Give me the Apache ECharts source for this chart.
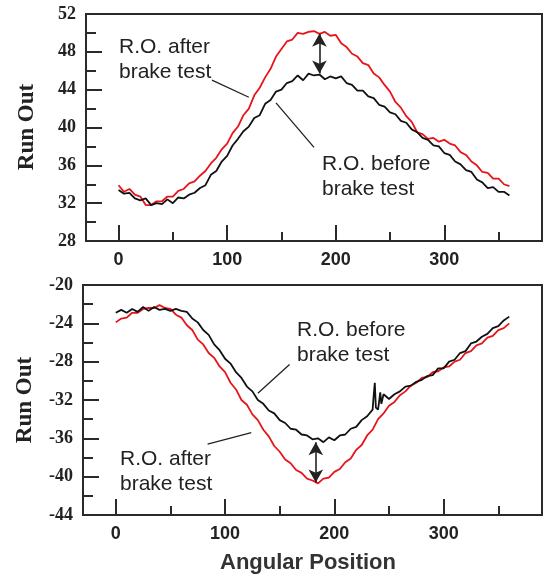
<!DOCTYPE html>
<html>
<head>
<meta charset="utf-8">
<script src="https://cdn.jsdelivr.net/npm/echarts@6/dist/echarts.min.js"></script>
<style>
  html, body { margin: 0; padding: 0; background: #fff; }
  #chart { width: 544px; height: 578px; }
</style>
</head>
<body>
<div id="chart"></div>
<script>
// Run out vs angular position, before / after brake test

var angles = [0, 5, 10, 15, 20, 25, 30, 35, 40, 45, 50, 55, 60, 65, 70, 75, 80, 85, 90, 95,
    100, 105, 110, 115, 120, 125, 130, 135, 140, 145, 150, 155, 160, 165, 170, 175, 180, 185, 190, 195,
    200, 205, 210, 215, 220, 225, 230, 235, 240, 245, 250, 255, 260, 265, 270, 275, 280, 285, 290, 295,
    300, 305, 310, 315, 320, 325, 330, 335, 340, 345, 350, 355, 360];

// top panel
var topBefore = [33.4, 33.0, 33.1, 32.5, 32.3, 32.5, 31.8, 32.0, 31.9, 32.4, 32.0, 32.6, 32.5, 32.9, 33.1, 33.6, 33.9, 35.0, 35.4, 36.4,
    37.0, 38.1, 38.8, 39.6, 40.1, 41.0, 41.3, 42.5, 42.9, 43.8, 44.0, 44.7, 44.9, 45.5, 45.0, 45.7, 45.5, 45.6, 45.1, 45.4,
    45.2, 45.4, 44.7, 44.5, 43.9, 43.9, 43.3, 43.1, 42.4, 42.2, 41.6, 41.4, 40.7, 40.5, 39.8, 39.5, 38.9, 38.7, 38.1, 38.0,
    37.3, 37.1, 36.4, 36.1, 35.5, 35.3, 34.5, 34.2, 33.6, 33.7, 33.2, 33.2, 32.8];
var topAfter = [33.9, 33.2, 33.5, 32.9, 32.7, 31.8, 31.8, 32.2, 32.2, 32.7, 32.7, 33.3, 33.5, 34.1, 34.3, 34.9, 35.4, 36.2, 36.8, 37.7,
    38.3, 39.4, 40.1, 41.3, 42.0, 43.4, 44.2, 45.3, 46.2, 47.5, 48.3, 49.1, 49.3, 50.0, 49.9, 50.1, 50.2, 49.9, 50.1, 49.7,
    49.8, 48.9, 48.5, 47.8, 47.5, 46.8, 46.6, 45.7, 45.3, 44.5, 43.8, 42.7, 42.1, 41.2, 40.6, 39.5, 39.3, 38.8, 38.9, 38.5,
    38.7, 38.3, 38.1, 37.4, 37.1, 36.4, 36.0, 35.3, 35.2, 34.6, 34.6, 34.0, 33.8];

// bottom panel (before test has a spike near 237 deg, so its own angle list)
var bottomBeforeAngles = [0, 5, 10, 15, 20, 25, 30, 35, 40, 45, 50, 55, 60, 65, 70, 75, 80, 85, 90, 95,
    100, 105, 110, 115, 120, 125, 130, 135, 140, 145, 150, 155, 160, 165, 170, 175, 180, 185, 190, 195,
    200, 205, 210, 215, 220, 225, 230, 235, 236, 237, 238, 240, 242, 243, 245, 250, 255, 260, 265, 270, 275, 280, 285, 290, 295,
    300, 305, 310, 315, 320, 325, 330, 335, 340, 345, 350, 355, 360];
var bottomBefore = [-22.9, -22.6, -22.9, -22.5, -22.8, -22.3, -22.7, -22.3, -22.6, -22.5, -22.7, -22.5, -22.7, -22.8, -23.5, -23.9, -24.7, -25.2, -26.2, -26.8,
    -27.7, -28.2, -29.1, -29.7, -30.6, -31.1, -32.0, -32.4, -33.1, -33.4, -34.1, -34.4, -35.0, -35.1, -35.6, -35.7, -36.1, -36.0, -36.4, -35.9,
    -36.2, -35.7, -35.6, -35.0, -34.8, -34.1, -33.7, -33.0, -31.5, -30.2, -32.8, -33.0, -31.2, -32.4, -31.4, -31.9, -31.4, -31.1, -30.6, -30.5, -30.1, -29.9, -29.5, -29.4, -28.7,
    -28.7, -28.0, -27.8, -27.1, -26.9, -26.1, -25.9, -25.4, -25.1, -24.5, -24.3, -23.7, -23.3];
var bottomAfter = [-23.9, -23.5, -23.4, -22.9, -22.9, -22.5, -22.4, -22.4, -22.1, -22.4, -22.5, -23.1, -23.4, -24.2, -24.7, -25.7, -26.2, -27.1, -27.6, -28.5,
    -29.1, -30.2, -30.9, -32.0, -32.5, -33.5, -34.1, -35.1, -35.8, -36.8, -37.4, -38.2, -38.6, -39.3, -39.6, -40.2, -40.4, -40.7, -40.2, -40.1,
    -39.5, -39.2, -38.5, -38.1, -37.2, -36.7, -35.7, -35.1, -34.0, -33.4, -32.6, -32.2, -31.5, -31.1, -30.5, -30.2, -29.7, -29.6, -29.1, -29.0,
    -28.6, -28.5, -28.0, -27.8, -27.1, -26.9, -26.3, -26.1, -25.5, -25.3, -24.7, -24.5, -24.0];

var xMajorTicks = [0, 100, 200, 300];
var xMinorTicks = [50, 150, 250, 350];
var topMinorTicks = [30, 34, 38, 42, 46, 50];
var bottomMinorTicks = [-42, -38, -34, -30, -26, -22];

function pairs(xs, ys) {
    var out = [];
    for (var i = 0; i < xs.length; i++) {
        out.push([xs[i], ys[i]]);
    }
    return out;
}

var axisColor = '#2a2a2a';
var redColor = '#e8141b';
var blackColor = '#111111';

function majorXAxis(gridIndex) {
    return {
        type: 'value',
        gridIndex: gridIndex,
        position: 'bottom',
        min: -30,
        max: 390,
        axisLine: { show: true, onZero: false, lineStyle: { color: axisColor, width: 2 } },
        axisTick: { show: true, inside: true, length: 16, customValues: xMajorTicks, lineStyle: { color: axisColor, width: 2 } },
        axisLabel: {
            customValues: xMajorTicks,
            margin: 10,
            fontFamily: 'Liberation Sans',
            fontWeight: 'bold',
            fontSize: 18,
            color: '#222'
        },
        splitLine: { show: false }
    };
}

function minorXAxis(gridIndex) {
    return {
        type: 'value',
        gridIndex: gridIndex,
        position: 'bottom',
        min: -30,
        max: 390,
        axisLine: { show: false, onZero: false },
        axisTick: { show: true, inside: true, length: 9, customValues: xMinorTicks, lineStyle: { color: axisColor, width: 2 } },
        axisLabel: { show: false },
        splitLine: { show: false }
    };
}

function runOutAxis(gridIndex, min, max) {
    return {
        type: 'value',
        gridIndex: gridIndex,
        position: 'left',
        min: min,
        max: max,
        interval: 4,
        axisLine: { show: true, onZero: false, lineStyle: { color: axisColor, width: 2 } },
        axisTick: { show: true, inside: true, length: 16, lineStyle: { color: axisColor, width: 2 } },
        axisLabel: {
            margin: 10,
            fontFamily: 'Liberation Serif',
            fontWeight: 'bold',
            fontSize: 18,
            color: '#222'
        },
        splitLine: { show: false }
    };
}

function minorYAxis(gridIndex, min, max, ticks) {
    return {
        type: 'value',
        gridIndex: gridIndex,
        position: 'left',
        min: min,
        max: max,
        axisLine: { show: false, onZero: false },
        axisTick: { show: true, inside: true, length: 10, customValues: ticks, lineStyle: { color: axisColor, width: 2 } },
        axisLabel: { show: false },
        splitLine: { show: false }
    };
}

function leader(a, b) {
    return [{ coord: a, symbol: 'none' }, { coord: b, symbol: 'none' }];
}

function doubleArrow(a, b) {
    return [
        { coord: a, symbol: 'arrow', symbolSize: [11, 13], lineStyle: { width: 1.6 } },
        { coord: b, symbol: 'arrow', symbolSize: [11, 13] }
    ];
}

var annText = {
    fontFamily: 'Liberation Sans',
    fontSize: 21,
    lineHeight: 25,
    fill: '#222'
};

var myChart = echarts.init(document.getElementById('chart'));

var option = {
    animation: false,
    backgroundColor: '#fff',
    grid: [
        { left: 86, top: 14, width: 456, height: 227, show: true, borderColor: axisColor, borderWidth: 2 },
        { left: 83, top: 285, width: 459, height: 230, show: true, borderColor: axisColor, borderWidth: 2 }
    ],
    xAxis: [majorXAxis(0), minorXAxis(0), majorXAxis(1), minorXAxis(1)],
    yAxis: [
        runOutAxis(0, 28, 52), minorYAxis(0, 28, 52, topMinorTicks),
        runOutAxis(1, -44, -20), minorYAxis(1, -44, -20, bottomMinorTicks)
    ],
    series: [
        {
            name: 'R.O. after brake test',
            type: 'line',
            xAxisIndex: 0,
            yAxisIndex: 0,
            showSymbol: false,
            lineStyle: { color: redColor, width: 1.8 },
            data: pairs(angles, topAfter)
        },
        {
            name: 'R.O. before brake test',
            type: 'line',
            xAxisIndex: 0,
            yAxisIndex: 0,
            showSymbol: false,
            lineStyle: { color: blackColor, width: 1.8 },
            data: pairs(angles, topBefore),
            markLine: {
                silent: true,
                symbol: 'none',
                label: { show: false },
                lineStyle: { color: '#222', width: 1.3, type: 'solid' },
                data: [
                    leader([86, 45.0], [120, 43.2]),
                    leader([145, 42.6], [180, 37.9]),
                    doubleArrow([185, 49.9], [185, 45.7])
                ]
            }
        },
        {
            name: 'R.O. after brake test ',
            type: 'line',
            xAxisIndex: 2,
            yAxisIndex: 2,
            showSymbol: false,
            lineStyle: { color: redColor, width: 1.8 },
            data: pairs(angles, bottomAfter)
        },
        {
            name: 'R.O. before brake test ',
            type: 'line',
            xAxisIndex: 2,
            yAxisIndex: 2,
            showSymbol: false,
            lineStyle: { color: blackColor, width: 1.8 },
            data: pairs(bottomBeforeAngles, bottomBefore),
            markLine: {
                silent: true,
                symbol: 'none',
                label: { show: false },
                lineStyle: { color: '#222', width: 1.3, type: 'solid' },
                data: [
                    leader([159, -28.3], [130, -31.3]),
                    leader([84, -36.6], [124, -35.4]),
                    doubleArrow([183, -36.4], [183, -40.6])
                ]
            }
        }
    ],
    graphic: [
        { type: 'text', left: 119, top: 35, style: Object.assign({ text: 'R.O. after\nbrake test' }, annText) },
        { type: 'text', left: 322, top: 152, style: Object.assign({ text: 'R.O. before\nbrake test' }, annText) },
        { type: 'text', left: 297, top: 318, style: Object.assign({ text: 'R.O. before\nbrake test' }, annText) },
        { type: 'text', left: 120, top: 447, style: Object.assign({ text: 'R.O. after\nbrake test' }, annText) },
        {
            type: 'text', x: 27, y: 127, rotation: Math.PI / 2,
            style: { text: 'Run Out', fontFamily: 'Liberation Serif', fontWeight: 'bold', fontSize: 23, fill: '#222', textAlign: 'center', textVerticalAlign: 'middle' }
        },
        {
            type: 'text', x: 25, y: 400, rotation: Math.PI / 2,
            style: { text: 'Run Out', fontFamily: 'Liberation Serif', fontWeight: 'bold', fontSize: 23, fill: '#222', textAlign: 'center', textVerticalAlign: 'middle' }
        },
        {
            type: 'text', x: 308, y: 563,
            style: { text: 'Angular Position', fontFamily: 'Liberation Sans', fontWeight: 'bold', fontSize: 22, fill: '#333', textAlign: 'center', textVerticalAlign: 'middle' }
        }
    ]
};

myChart.setOption(option);
</script>
</body>
</html>
